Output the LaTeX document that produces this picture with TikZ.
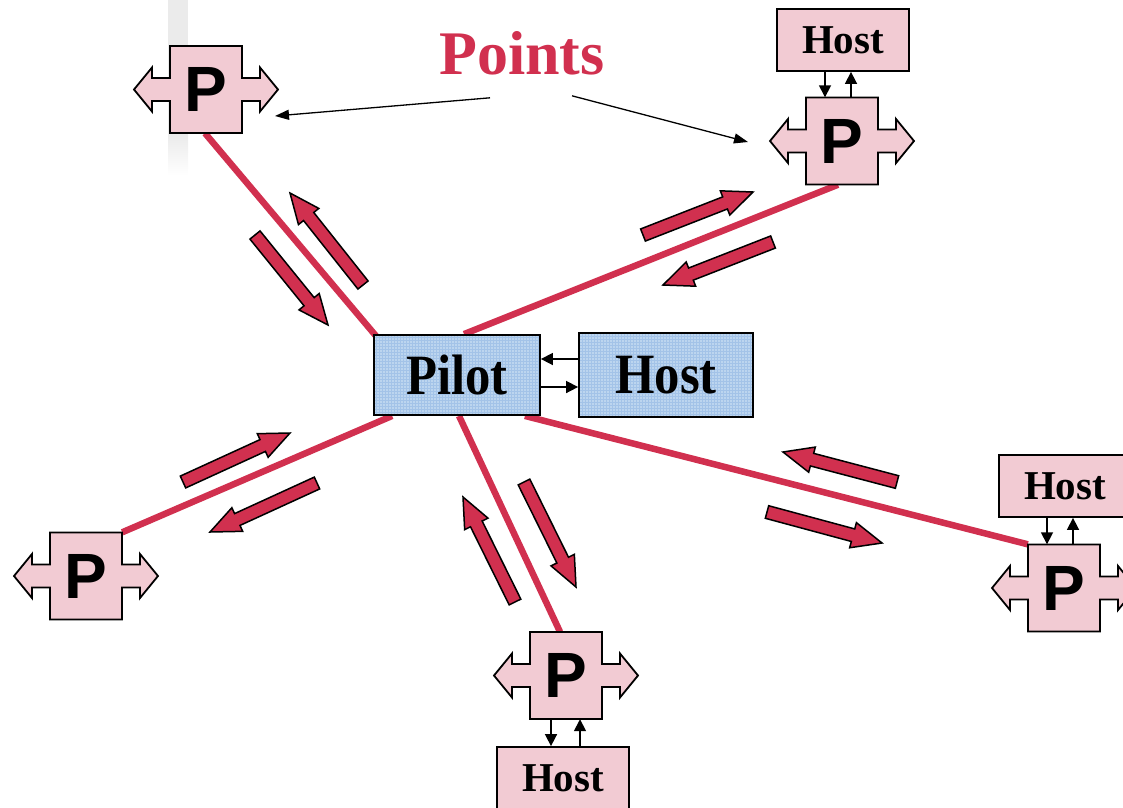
\documentclass[tikz,border=0pt]{standalone}
\usepackage{fontspec}
\setmainfont{Liberation Serif}
\newfontfamily\arialfont{Liberation Sans}
\usetikzlibrary{arrows.meta,calc,backgrounds}

\definecolor{linkred}{HTML}{D1304F}
\definecolor{peerpink}{HTML}{F2CBD3}
\definecolor{pilotblue}{HTML}{BCD5EF}
\definecolor{gridblue}{HTML}{A3C3E8}
\definecolor{stripegray}{HTML}{EBEBEB}

\tikzset{
  peeroutline/.style={fill=peerpink, draw=black, line width=1.8pt},
  peernode/.style={minimum width=72pt, minimum height=87pt, inner sep=0pt,
    font=\arialfont\bfseries\fontsize{64}{64}\selectfont},
  hostbox/.style={fill=peerpink, draw=black, line width=1.8pt, inner sep=0pt,
    minimum width=132pt, minimum height=62pt,
    font=\bfseries\fontsize{41}{41}\selectfont},
  centrebox/.style={fill=pilotblue, draw=black, line width=1.8pt, inner sep=0pt,
    font=\bfseries\fontsize{57}{57}\selectfont,
    path picture={\draw[gridblue, line width=0.5pt]
      (path picture bounding box.south west) grid[step=3pt]
      (path picture bounding box.north east);}},
  linkline/.style={draw=linkred, line width=6.5pt},
  flow/.style={fill=linkred, draw=black, line width=1.5pt},
  smallarrow/.style={draw=black, line width=1.6pt,
    -{Triangle[length=12pt,width=12pt]}},
  pointer/.style={draw=black, line width=1.3pt,
    -{Triangle[length=14pt,width=10pt]}},
  titletext/.style={font=\bfseries\fontsize{62}{62}\selectfont,
    text=linkred, inner sep=2pt}
}

% cross-shaped peer outline (box with a double arrow) centred at #1
\newcommand\peershape[1]{%
  \draw[peeroutline, shift={(#1)}]
    (-36,-43.5) -- (36,-43.5) -- (36,-11.5) -- (54,-11.5) -- (54,-22)
    -- (72,0) -- (54,22) -- (54,11.5) -- (36,11.5) -- (36,43.5)
    -- (-36,43.5) -- (-36,11.5) -- (-54,11.5) -- (-54,22) -- (-72,0)
    -- (-54,-22) -- (-54,-11.5) -- (-36,-11.5) -- cycle;}

% thick block arrow from tail #1 to tip #2
\newcommand\flowarrow[2]{%
  \coordinate (fa-base) at ($(#2)!30pt!(#1)$);
  \draw[flow] ($(#1)!6.5pt!90:(#2)$) -- ($(fa-base)!6.5pt!-90:(#1)$)
    -- ($(fa-base)!13pt!-90:(#1)$) -- (#2)
    -- ($(fa-base)!13pt!90:(#1)$) -- ($(fa-base)!6.5pt!90:(#1)$)
    -- ($(#1)!6.5pt!-90:(#2)$) -- cycle;}

\begin{document}
\begin{tikzpicture}[x=1pt, y=-1pt]
\useasboundingbox (0,0) rectangle (1123,807);

% centre: pilot and its host
\node[centrebox, minimum width=166pt, minimum height=80pt] (pilot) at (457,375)
  {\scalebox{0.89}[1]{Pilot}};
\node[centrebox, minimum width=174pt, minimum height=84pt] (mainhost) at (666,375)
  {\scalebox{0.89}[1]{Host}};
\draw[smallarrow] ([yshift=16pt]mainhost.west) -- ([yshift=16pt]pilot.east);
\draw[smallarrow] ([yshift=-12pt]pilot.east) -- ([yshift=-12pt]mainhost.west);

% peers
\peershape{206,89.5}
\node[peernode] (p1) at (206,89.5) {P};
\peershape{842,141}
\node[peernode] (p2) at (842,141) {P};
\peershape{86,576}
\node[peernode] (p3) at (86,576) {P};
\peershape{566,675.5}
\node[peernode] (p4) at (566,675.5) {P};
\peershape{1064,588}
\node[peernode] (p5) at (1064,588) {P};

% hosts attached to peers
\node[hostbox] (h2) at (843,40) {Host};
\node[hostbox] (h4) at (563,778) {Host};
\node[hostbox] (h5) at (1065,486) {Host};
\draw[smallarrow] ([xshift=-18pt]h2.south) -- ([xshift=-18pt]h2.south |- p2.north);
\draw[smallarrow] ([xshift=8pt]h2.south |- p2.north) -- ([xshift=8pt]h2.south);
\draw[smallarrow] ([xshift=-18pt]h5.south) -- ([xshift=-18pt]h5.south |- p5.north);
\draw[smallarrow] ([xshift=8pt]h5.south |- p5.north) -- ([xshift=8pt]h5.south);
\draw[smallarrow] ([xshift=-12pt]h4.north |- p4.south) -- ([xshift=-12pt]h4.north);
\draw[smallarrow] ([xshift=17pt]h4.north) -- ([xshift=17pt]h4.north |- p4.south);

% title with pointers
\node[titletext, anchor=base] (points) at (522,74) {Points};
\draw[pointer] ([xshift=-32pt,yshift=-21pt]points.south) -- ([xshift=69pt,yshift=-26.5pt]p1.center);
\draw[pointer] ([xshift=50pt,yshift=-19pt]points.south) -- ([xshift=-94pt,yshift=-1pt]p2.center);

% traffic arrows along the links
\coordinate (a1t) at (255,235);  \coordinate (a1h) at (328,325);
\coordinate (a2t) at (363,285);  \coordinate (a2h) at (290,193);
\coordinate (a3t) at (643,235);  \coordinate (a3h) at (753,192);
\coordinate (a4t) at (773,242);  \coordinate (a4h) at (663,285);
\coordinate (a5t) at (183,482);  \coordinate (a5h) at (290,433);
\coordinate (a6t) at (317,483);  \coordinate (a6h) at (210,532);
\coordinate (a7t) at (515,602);  \coordinate (a7h) at (463,497);
\coordinate (a8t) at (524,482);  \coordinate (a8h) at (576,587);
\coordinate (a9t) at (897,482);  \coordinate (a9h) at (783,452);
\coordinate (a10t) at (767,512); \coordinate (a10h) at (882,543);
\flowarrow{a1t}{a1h} \flowarrow{a2t}{a2h}
\flowarrow{a3t}{a3h} \flowarrow{a4t}{a4h}
\flowarrow{a5t}{a5h} \flowarrow{a6t}{a6h}
\flowarrow{a7t}{a7h} \flowarrow{a8t}{a8h}
\flowarrow{a9t}{a9h} \flowarrow{a10t}{a10h}

\begin{scope}[on background layer]
  % faint vertical band at the upper left
  \fill[stripegray] (168,0) rectangle (188,135);
  \shade[top color=stripegray, bottom color=white] (168,135) rectangle (188,175);
  % links from the pilot to each peer
  \draw[linkline] ([xshift=3pt,yshift=-2pt]pilot.north west) -- ([xshift=-1pt]p1.south);
  \draw[linkline] ([xshift=7pt]pilot.north) -- ([xshift=-4pt]p2.south);
  \draw[linkline] ([xshift=19pt]pilot.south west) -- (p3.north east);
  \draw[linkline] ([xshift=2pt]pilot.south) -- ([xshift=-6pt]p4.north);
  \draw[linkline] ([xshift=-16pt]pilot.south east) -- (p5.north west);
\end{scope}
\end{tikzpicture}
\end{document}
